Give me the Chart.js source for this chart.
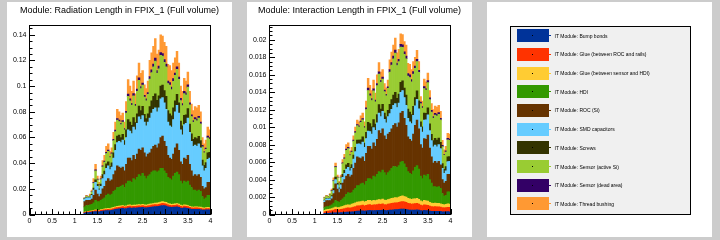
<!DOCTYPE html>
<html>
<head>
<meta charset="utf-8">
<script src="https://cdn.jsdelivr.net/npm/chart.js@4.4.1/dist/chart.umd.min.js"></script>
<style>
  html, body { margin: 0; padding: 0; }
  body { width: 720px; height: 240px; background: #cccccc; position: relative; overflow: hidden;
         font-family: "Liberation Sans", Arial, sans-serif; }
  .pad { position: absolute; top: 2px; width: 225px; height: 235px; background: #ffffff; }
  .pad canvas { position: absolute; left: 0; top: 0; }
  .ttl { position: absolute; left: 0; top: 3.3px; width: 225px; text-align: center; font-size: 9px;
         line-height: 10px; color: #000; white-space: nowrap; }
  #legbox { position: absolute; left: 22.5px; top: 23.5px; width: 179px; height: 187px;
            border: 1px solid #000; background: #f0f0f0; }
  .row { position: absolute; left: 0; width: 179px; height: 18.9px; }
  .sw { position: absolute; left: 6px; width: 32px; height: 13px; }
  .dot { position: absolute; left: 15.5px; top: 6px; width: 1px; height: 1px; background: #000; }
  .ln { position: absolute; left: 32px; top: 6px; width: 2px; height: 1px; }
  .lt { position: absolute; left: 44px; font-size: 5px; line-height: 6px; color: #000; white-space: nowrap; }
</style>
</head>
<body>
<div class="pad" style="left:7px"><canvas id="c1" width="225" height="235" style="width:225px;height:235px"></canvas><div class="ttl" id="t1"></div></div>
<div class="pad" style="left:247px"><canvas id="c2" width="225" height="235" style="width:225px;height:235px"></canvas><div class="ttl" id="t2"></div></div>
<div class="pad" style="left:487px"><div id="legbox"></div></div>
<script>
// ---------------- data ----------------
const binCenters = [
  1.22,1.26,1.30,1.34,1.38,1.42,1.46,1.50,1.54,1.58,
  1.62,1.66,1.70,1.74,1.78,1.82,1.86,1.90,1.94,1.98,
  2.02,2.06,2.10,2.14,2.18,2.22,2.26,2.30,2.34,2.38,
  2.42,2.46,2.50,2.54,2.58,2.62,2.66,2.70,2.74,2.78,
  2.82,2.86,2.90,2.94,2.98,3.02,3.06,3.10,3.14,3.18,
  3.22,3.26,3.30,3.34,3.38,3.42,3.46,3.50,3.54,3.58,
  3.62,3.66,3.70,3.74,3.78,3.82,3.86,3.90,3.94,3.98];

const seriesNames = [
  "IT Module: Bump bonds",
  "IT Module: Glue (between ROC and rails)",
  "IT Module: Glue (between sensor and HDI)",
  "IT Module: HDI",
  "IT Module: ROC (Si)",
  "IT Module: SMD capacitors",
  "IT Module: Screws",
  "IT Module: Sensor (active Si)",
  "IT Module: Sensor (dead area)",
  "IT Module: Thread bushing"];

const panelTitles = [
  "Module: Radiation Length in FPIX_1 (Full volume)",
  "Module: Interaction Length in FPIX_1 (Full volume)"];

const xTickLabels = ["0","0.5","1","1.5","2","2.5","3","3.5","4"];

// Radiation length (left panel)
const radBump = [
  0.0012,0.0014,0.0015,0.0016,0.0018,0.0020,0.0022,0.0020,0.0021,0.0024,
  0.0026,0.0028,0.0030,0.0031,0.0030,0.0033,0.0036,0.0040,0.0042,0.0044,
  0.0046,0.0048,0.0045,0.0047,0.0050,0.0052,0.0049,0.0051,0.0050,0.0052,
  0.0054,0.0053,0.0055,0.0052,0.0051,0.0054,0.0056,0.0058,0.0060,0.0062,
  0.0061,0.0064,0.0068,0.0070,0.0069,0.0066,0.0060,0.0058,0.0055,0.0057,
  0.0058,0.0060,0.0056,0.0050,0.0048,0.0052,0.0050,0.0049,0.0044,0.0040,
  0.0040,0.0041,0.0040,0.0040,0.0039,0.0035,0.0034,0.0036,0.0037,0.0036];
const radGlueRoc = [
  0.0004,0.0005,0.0005,0.0006,0.0006,0.0007,0.0008,0.0007,0.0007,0.0008,
  0.0008,0.0009,0.0009,0.0010,0.0009,0.0010,0.0011,0.0011,0.0012,0.0012,
  0.0012,0.0013,0.0012,0.0012,0.0013,0.0013,0.0012,0.0013,0.0013,0.0013,
  0.0014,0.0013,0.0014,0.0013,0.0013,0.0014,0.0014,0.0015,0.0015,0.0015,
  0.0015,0.0016,0.0016,0.0017,0.0016,0.0016,0.0015,0.0014,0.0014,0.0014,
  0.0014,0.0015,0.0014,0.0013,0.0012,0.0013,0.0013,0.0012,0.0011,0.0011,
  0.0010,0.0011,0.0011,0.0010,0.0010,0.0010,0.0009,0.0010,0.0010,0.0010];
const radGlueSensor = [
  0.0003,0.0004,0.0004,0.0004,0.0005,0.0005,0.0006,0.0005,0.0005,0.0006,
  0.0006,0.0007,0.0007,0.0007,0.0007,0.0008,0.0008,0.0008,0.0009,0.0009,
  0.0009,0.0009,0.0009,0.0009,0.0010,0.0010,0.0009,0.0010,0.0010,0.0010,
  0.0010,0.0010,0.0011,0.0010,0.0010,0.0010,0.0011,0.0011,0.0011,0.0012,
  0.0012,0.0012,0.0012,0.0013,0.0012,0.0012,0.0011,0.0011,0.0011,0.0011,
  0.0011,0.0011,0.0011,0.0010,0.0009,0.0010,0.0010,0.0009,0.0009,0.0008,
  0.0008,0.0008,0.0008,0.0008,0.0008,0.0008,0.0007,0.0007,0.0008,0.0008];
const radHdi = [
  0.0041,0.0047,0.0046,0.0049,0.0051,0.0058,0.0074,0.0068,0.0067,0.0072,
  0.0080,0.0086,0.0104,0.0112,0.0104,0.0109,0.0125,0.0131,0.0147,0.0145,
  0.0153,0.0160,0.0144,0.0172,0.0187,0.0185,0.0180,0.0206,0.0197,0.0215,
  0.0232,0.0224,0.0240,0.0225,0.0206,0.0222,0.0229,0.0246,0.0254,0.0251,
  0.0242,0.0248,0.0264,0.0260,0.0243,0.0226,0.0204,0.0197,0.0190,0.0218,
  0.0237,0.0244,0.0229,0.0187,0.0171,0.0185,0.0177,0.0190,0.0166,0.0151,
  0.0132,0.0130,0.0121,0.0132,0.0123,0.0087,0.0070,0.0077,0.0095,0.0096];
const radRoc = [
  0.0040,0.0040,0.0040,0.0035,0.0040,0.0060,0.0080,0.0060,0.0040,0.0050,
  0.0080,0.0090,0.0110,0.0120,0.0110,0.0110,0.0130,0.0150,0.0170,0.0160,
  0.0140,0.0140,0.0130,0.0150,0.0180,0.0180,0.0170,0.0180,0.0160,0.0180,
  0.0200,0.0200,0.0200,0.0180,0.0170,0.0170,0.0170,0.0180,0.0190,0.0200,
  0.0190,0.0210,0.0240,0.0250,0.0230,0.0210,0.0170,0.0160,0.0160,0.0170,
  0.0200,0.0220,0.0190,0.0150,0.0150,0.0180,0.0180,0.0200,0.0160,0.0130,
  0.0110,0.0120,0.0120,0.0120,0.0110,0.0080,0.0080,0.0080,0.0100,0.0100];
const radSmd = [
  0.002,0.002,0.002,0.002,0.003,0.004,0.006,0.006,0.005,0.006,
  0.008,0.009,0.010,0.010,0.009,0.010,0.013,0.016,0.018,0.020,
  0.020,0.021,0.020,0.021,0.022,0.021,0.021,0.022,0.023,0.024,
  0.025,0.024,0.025,0.024,0.024,0.025,0.027,0.028,0.029,0.029,
  0.028,0.028,0.030,0.030,0.030,0.029,0.026,0.025,0.025,0.027,
  0.028,0.030,0.029,0.025,0.023,0.026,0.028,0.029,0.025,0.023,
  0.023,0.023,0.023,0.024,0.023,0.016,0.014,0.015,0.018,0.019];
const radScrews = [
  0.0002,0.0003,0.0002,0.0005,0.0008,0.0015,0.0020,0.0015,0.0010,0.0016,
  0.0030,0.0028,0.0035,0.0030,0.0025,0.0032,0.0040,0.0045,0.0050,0.0048,
  0.0040,0.0045,0.0035,0.0060,0.0080,0.0070,0.0065,0.0075,0.0055,0.0075,
  0.0085,0.0070,0.0072,0.0060,0.0058,0.0065,0.0090,0.0095,0.0100,0.0110,
  0.0090,0.0095,0.0100,0.0098,0.0095,0.0100,0.0090,0.0095,0.0088,0.0090,
  0.0085,0.0086,0.0080,0.0068,0.0070,0.0072,0.0066,0.0074,0.0064,0.0058,
  0.0056,0.0060,0.0062,0.0058,0.0056,0.0044,0.0042,0.0045,0.0050,0.0044];
const radSensor = [
  0.0004,0.0009,0.0005,0.0013,0.0018,0.0040,0.0070,0.0035,0.0028,0.0036,
  0.0062,0.0070,0.0080,0.0082,0.0068,0.0070,0.0095,0.0100,0.0125,0.0105,
  0.0100,0.0095,0.0085,0.0130,0.0180,0.0165,0.0155,0.0170,0.0130,0.0175,
  0.0200,0.0170,0.0165,0.0135,0.0138,0.0150,0.0215,0.0220,0.0230,0.0255,
  0.0210,0.0210,0.0240,0.0225,0.0220,0.0230,0.0210,0.0222,0.0205,0.0208,
  0.0198,0.0195,0.0182,0.0160,0.0158,0.0170,0.0155,0.0168,0.0150,0.0135,
  0.0132,0.0140,0.0138,0.0142,0.0130,0.0103,0.0098,0.0102,0.0118,0.0104];
const radDead = [
  0.0001,0.0002,0.0001,0.0002,0.0003,0.0005,0.0007,0.0005,0.0004,0.0005,
  0.0008,0.0008,0.0009,0.0010,0.0008,0.0008,0.0010,0.0012,0.0013,0.0012,
  0.0011,0.0012,0.0010,0.0014,0.0018,0.0016,0.0015,0.0017,0.0014,0.0017,
  0.0019,0.0017,0.0016,0.0014,0.0014,0.0015,0.0020,0.0021,0.0022,0.0024,
  0.0020,0.0020,0.0022,0.0021,0.0021,0.0022,0.0020,0.0021,0.0020,0.0020,
  0.0019,0.0019,0.0018,0.0016,0.0016,0.0017,0.0016,0.0017,0.0015,0.0014,
  0.0013,0.0014,0.0014,0.0014,0.0013,0.0011,0.0010,0.0011,0.0012,0.0011];
const radThread = [
  0.0003,0.0006,0.0002,0.0010,0.0011,0.0030,0.0043,0.0025,0.0018,0.0023,
  0.0040,0.0044,0.0046,0.0048,0.0039,0.0040,0.0055,0.0063,0.0072,0.0065,
  0.0059,0.0058,0.0050,0.0076,0.0112,0.0099,0.0095,0.0098,0.0081,0.0103,
  0.0116,0.0103,0.0097,0.0081,0.0080,0.0090,0.0125,0.0134,0.0138,0.0151,
  0.0130,0.0125,0.0138,0.0136,0.0134,0.0138,0.0130,0.0132,0.0127,0.0122,
  0.0118,0.0120,0.0110,0.0096,0.0096,0.0101,0.0093,0.0101,0.0091,0.0083,
  0.0079,0.0086,0.0086,0.0086,0.0081,0.0062,0.0060,0.0062,0.0070,0.0061];

// Interaction length (right panel)
const intBump = [
  0.00012,0.00013,0.00014,0.00015,0.00016,0.00018,0.00020,0.00018,0.00019,0.00021,
  0.00023,0.00025,0.00027,0.00028,0.00027,0.00030,0.00032,0.00036,0.00038,0.00040,
  0.00041,0.00043,0.00040,0.00042,0.00045,0.00047,0.00044,0.00046,0.00045,0.00047,
  0.00049,0.00048,0.00050,0.00047,0.00046,0.00049,0.00050,0.00052,0.00054,0.00056,
  0.00055,0.00058,0.00061,0.00063,0.00062,0.00059,0.00054,0.00052,0.00050,0.00051,
  0.00052,0.00054,0.00050,0.00045,0.00043,0.00047,0.00045,0.00044,0.00040,0.00036,
  0.00036,0.00037,0.00036,0.00036,0.00035,0.00032,0.00031,0.00032,0.00033,0.00032];
const intGlueRoc = [
  0.00020,0.00024,0.00025,0.00028,0.00030,0.00034,0.00038,0.00035,0.00035,0.00038,
  0.00040,0.00044,0.00046,0.00048,0.00046,0.00050,0.00054,0.00056,0.00060,0.00060,
  0.00061,0.00064,0.00060,0.00062,0.00066,0.00066,0.00062,0.00066,0.00065,0.00067,
  0.00070,0.00068,0.00072,0.00067,0.00066,0.00070,0.00072,0.00075,0.00077,0.00078,
  0.00078,0.00080,0.00083,0.00085,0.00082,0.00080,0.00075,0.00072,0.00070,0.00072,
  0.00072,0.00075,0.00070,0.00064,0.00060,0.00065,0.00064,0.00062,0.00056,0.00054,
  0.00052,0.00054,0.00053,0.00052,0.00050,0.00048,0.00045,0.00048,0.00050,0.00050];
const intGlueSensor = [
  0.00015,0.00018,0.00019,0.00020,0.00022,0.00025,0.00028,0.00026,0.00026,0.00028,
  0.00030,0.00033,0.00034,0.00036,0.00035,0.00038,0.00040,0.00042,0.00045,0.00045,
  0.00046,0.00047,0.00045,0.00047,0.00050,0.00050,0.00047,0.00050,0.00049,0.00051,
  0.00053,0.00052,0.00055,0.00051,0.00050,0.00053,0.00055,0.00057,0.00058,0.00060,
  0.00059,0.00061,0.00063,0.00065,0.00062,0.00060,0.00056,0.00055,0.00053,0.00055,
  0.00055,0.00057,0.00053,0.00048,0.00045,0.00049,0.00048,0.00047,0.00043,0.00040,
  0.00039,0.00040,0.00040,0.00039,0.00038,0.00036,0.00034,0.00036,0.00038,0.00038];
const intHdi = [
  0.00033,0.00035,0.00032,0.00037,0.00042,0.00053,0.00074,0.00071,0.00060,0.00073,
  0.00087,0.00098,0.00123,0.00138,0.00132,0.00132,0.00154,0.00166,0.00187,0.00185,
  0.00202,0.00206,0.00195,0.00229,0.00249,0.00247,0.00247,0.00278,0.00271,0.00295,
  0.00318,0.00312,0.00333,0.00315,0.00288,0.00308,0.00323,0.00346,0.00361,0.00356,
  0.00348,0.00361,0.00393,0.00397,0.00374,0.00341,0.00305,0.00291,0.00287,0.00322,
  0.00361,0.00374,0.00347,0.00283,0.00262,0.00289,0.00283,0.00307,0.00261,0.00230,
  0.00193,0.00189,0.00181,0.00193,0.00177,0.00124,0.00100,0.00104,0.00139,0.00140];
const intRoc = [
  0.0006,0.0007,0.0007,0.0006,0.0007,0.0011,0.0019,0.0014,0.0011,0.0013,
  0.0018,0.0020,0.0021,0.0021,0.0019,0.0020,0.0025,0.0029,0.0033,0.0032,
  0.0029,0.0030,0.0027,0.0032,0.0037,0.0037,0.0035,0.0038,0.0035,0.0040,
  0.0047,0.0045,0.0047,0.0042,0.0041,0.0044,0.0044,0.0045,0.0047,0.0049,
  0.0046,0.0049,0.0056,0.0057,0.0052,0.0048,0.0040,0.0039,0.0038,0.0042,
  0.0048,0.0052,0.0046,0.0036,0.0035,0.0042,0.0042,0.0045,0.0036,0.0030,
  0.0027,0.0029,0.0028,0.0029,0.0027,0.0016,0.0015,0.0016,0.0020,0.0020];
const intSmd = [
  0.00020,0.00020,0.00020,0.00020,0.00025,0.00035,0.00050,0.00050,0.00040,0.00050,
  0.00065,0.00070,0.00080,0.00080,0.00070,0.00080,0.00105,0.00130,0.00145,0.00160,
  0.00160,0.00170,0.00160,0.00170,0.00175,0.00170,0.00170,0.00175,0.00185,0.00190,
  0.00200,0.00190,0.00200,0.00190,0.00190,0.00200,0.00215,0.00225,0.00230,0.00230,
  0.00225,0.00225,0.00240,0.00240,0.00240,0.00230,0.00210,0.00200,0.00200,0.00215,
  0.00225,0.00240,0.00230,0.00200,0.00185,0.00210,0.00225,0.00230,0.00200,0.00185,
  0.00185,0.00185,0.00185,0.00190,0.00185,0.00130,0.00110,0.00120,0.00145,0.00150];
const intScrews = [
  0.00005,0.00006,0.00004,0.00008,0.00012,0.00022,0.00028,0.00017,0.00014,0.00018,
  0.00035,0.00036,0.00048,0.00045,0.00038,0.00042,0.00045,0.00048,0.00046,0.00042,
  0.00055,0.00058,0.00048,0.00072,0.00100,0.00090,0.00085,0.00092,0.00070,0.00095,
  0.00098,0.00086,0.00082,0.00070,0.00068,0.00072,0.00105,0.00110,0.00118,0.00128,
  0.00105,0.00105,0.00112,0.00110,0.00108,0.00118,0.00106,0.00112,0.00105,0.00104,
  0.00094,0.00095,0.00092,0.00060,0.00060,0.00080,0.00074,0.00082,0.00078,0.00072,
  0.00072,0.00076,0.00077,0.00076,0.00072,0.00054,0.00046,0.00048,0.00055,0.00053];
const intSensor = [
  0.00025,0.00024,0.00018,0.00036,0.00052,0.00088,0.00115,0.00066,0.00054,0.00065,
  0.00122,0.00132,0.00168,0.00170,0.00138,0.00142,0.00160,0.00168,0.00166,0.00150,
  0.00200,0.00196,0.00175,0.00260,0.00365,0.00318,0.00300,0.00328,0.00256,0.00330,
  0.00350,0.00307,0.00288,0.00246,0.00240,0.00252,0.00370,0.00395,0.00415,0.00450,
  0.00376,0.00370,0.00405,0.00385,0.00386,0.00415,0.00380,0.00397,0.00373,0.00370,
  0.00334,0.00337,0.00325,0.00210,0.00214,0.00283,0.00262,0.00288,0.00277,0.00256,
  0.00255,0.00267,0.00274,0.00271,0.00256,0.00193,0.00162,0.00168,0.00196,0.00186];
const intDead = [
  0.00002,0.00002,0.00002,0.00003,0.00004,0.00007,0.00009,0.00005,0.00004,0.00005,
  0.00010,0.00010,0.00013,0.00013,0.00011,0.00011,0.00012,0.00013,0.00013,0.00012,
  0.00015,0.00015,0.00013,0.00019,0.00027,0.00024,0.00022,0.00024,0.00019,0.00025,
  0.00026,0.00023,0.00022,0.00018,0.00018,0.00019,0.00028,0.00029,0.00031,0.00034,
  0.00028,0.00028,0.00030,0.00029,0.00029,0.00031,0.00028,0.00030,0.00028,0.00028,
  0.00025,0.00025,0.00024,0.00016,0.00016,0.00021,0.00020,0.00022,0.00021,0.00019,
  0.00019,0.00020,0.00020,0.00020,0.00019,0.00014,0.00012,0.00013,0.00015,0.00014];
const intThread = [
  0.00008,0.00008,0.00006,0.00013,0.00017,0.00028,0.00038,0.00022,0.00018,0.00022,
  0.00038,0.00042,0.00051,0.00052,0.00043,0.00045,0.00048,0.00051,0.00050,0.00046,
  0.00060,0.00061,0.00054,0.00079,0.00113,0.00098,0.00093,0.00101,0.00080,0.00100,
  0.00106,0.00094,0.00088,0.00076,0.00074,0.00077,0.00112,0.00121,0.00126,0.00138,
  0.00116,0.00112,0.00123,0.00116,0.00117,0.00126,0.00116,0.00121,0.00114,0.00113,
  0.00102,0.00103,0.00099,0.00064,0.00065,0.00086,0.00079,0.00088,0.00084,0.00078,
  0.00079,0.00082,0.00084,0.00083,0.00078,0.00059,0.00050,0.00051,0.00059,0.00057];

// ---------------- styling ----------------
const seriesColors = ["#003399","#ff3300","#ffcc33","#339900","#663300",
                      "#66ccff","#333300","#99cc33","#330066","#ff9933"];
const FONT = '"Liberation Sans", Arial, Helvetica, sans-serif';

const fmt = v => String(parseFloat(Number(v).toFixed(6)));

const rootAxes = {
  id: 'rootAxes',
  afterDatasetsDraw(chart, args, o) {
    const {ctx, chartArea: a, scales: {x, y}} = chart;
    ctx.save();
    ctx.strokeStyle = '#000';
    ctx.lineWidth = 1;
    ctx.beginPath();
    const nx = Math.round((o.xMax - o.xMin) / o.xMinor);
    for (let k = 0; k <= nx; k++) {
      const px = Math.round(x.getPixelForValue(o.xMin + k * o.xMinor)) + 0.5;
      const len = (k % o.xPer === 0) ? 5.5 : 3;
      ctx.moveTo(px, a.bottom);
      ctx.lineTo(px, a.bottom - len);
    }
    const ny = Math.floor(o.yMax / o.yMinor + 1e-6);
    for (let k = 0; k <= ny; k++) {
      const py = Math.round(y.getPixelForValue(k * o.yMinor)) + 0.5;
      const len = (k % o.yPer === 0) ? 5.5 : 3;
      ctx.moveTo(a.left, py);
      ctx.lineTo(a.left + len, py);
    }
    ctx.stroke();
    ctx.strokeRect(a.left, a.top, a.right - a.left, a.bottom - a.top);
    ctx.restore();
  }
};

function makeChart(id, series, yMax, yStep, yMinor) {
  const datasets = series.map((vals, k) => ({
    label: seriesNames[k],
    data: binCenters.map((xv, i) => ({x: xv, y: vals[i]})),
    backgroundColor: seriesColors[k],
    borderWidth: 0,
    barPercentage: 1,
    categoryPercentage: 1
  }));
  return new Chart(document.getElementById(id), {
    type: 'bar',
    data: {datasets},
    options: {
      responsive: false,
      animation: false,
      devicePixelRatio: 1,
      events: [],
      layout: {padding: {left: 0, right: 21.5, top: 23.5, bottom: 0}},
      plugins: {
        legend: {display: false},
        tooltip: {enabled: false},
        title: {display: false},
        rootAxes: {xMin: 0, xMax: 4, xMinor: 0.125, xPer: 4, yMax: yMax, yMinor: yMinor, yPer: Math.round(yStep / yMinor)}
      },
      scales: {
        x: {
          type: 'linear', min: 0, max: 4, offset: false, stacked: true,
          grid: {display: false, drawTicks: false, tickLength: 0, offset: false},
          border: {display: false},
          ticks: {
            stepSize: 0.5, includeBounds: false, autoSkip: false, maxRotation: 0,
            color: '#000', font: {family: FONT, size: 7}, padding: 2,
            callback: (v, i) => xTickLabels[Math.round(v / 0.5)] ?? fmt(v)
          },
          afterFit: s => { s.height = 22.5; }
        },
        y: {
          type: 'linear', min: 0, max: yMax, stacked: true,
          grid: {display: false, drawTicks: false, tickLength: 0},
          border: {display: false},
          ticks: {
            stepSize: yStep, includeBounds: false, autoSkip: false,
            color: '#000', font: {family: FONT, size: 7}, padding: 3,
            callback: v => fmt(v)
          },
          afterFit: s => { s.width = 22.5; }
        }
      }
    },
    plugins: [rootAxes]
  });
}

document.getElementById('t1').textContent = panelTitles[0];
document.getElementById('t2').textContent = panelTitles[1];

makeChart('c1',
  [radBump, radGlueRoc, radGlueSensor, radHdi, radRoc, radSmd, radScrews, radSensor, radDead, radThread],
  0.1472, 0.02, 0.005);
makeChart('c2',
  [intBump, intGlueRoc, intGlueSensor, intHdi, intRoc, intSmd, intScrews, intSensor, intDead, intThread],
  0.02164, 0.002, 0.0005);

// ---------------- legend ----------------
const box = document.getElementById('legbox');
seriesNames.forEach((name, i) => {
  const row = document.createElement('div');
  row.className = 'row';
  row.style.top = (18.7 * i) + 'px';
  const swTop = 2.7;
  row.innerHTML =
    '<div class="sw" style="top:' + swTop + 'px;background:' + seriesColors[i] + '"><div class="dot"></div></div>' +
    '<div class="ln" style="top:' + (swTop + 6) + 'px;left:38px;background:' + seriesColors[i] + '"></div>' +
    '<div class="lt" style="top:' + (swTop + 3.5) + 'px">' + name + '</div>';
  box.appendChild(row);
});
</script>
</body>
</html>
